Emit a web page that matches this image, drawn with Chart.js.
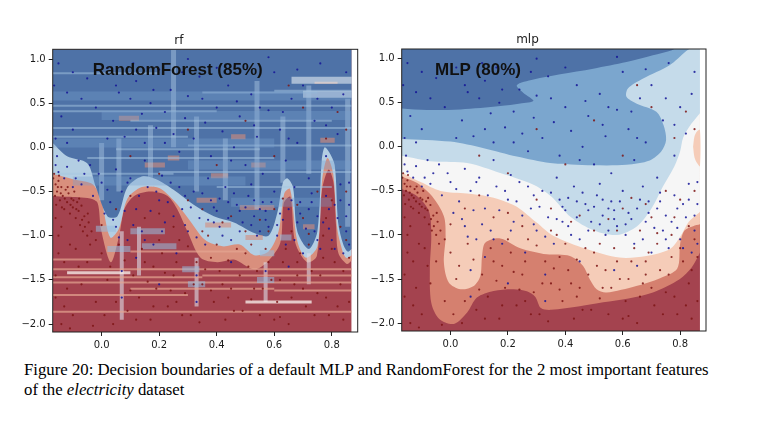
<!DOCTYPE html>
<html>
<head>
<meta charset="utf-8">
<script src="https://cdn.jsdelivr.net/npm/chart.js@4.4.1/dist/chart.umd.min.js"></script>
<style>
  html, body { margin: 0; padding: 0; background: #fff; }
  body { width: 764px; height: 435px; position: relative; overflow: hidden; }
  #rfChart { position: absolute; left: 0; top: 0; }
  #mlpChart { position: absolute; left: 349px; top: 0; }
  #caption { position: absolute; left: 24px; top: 360px; font-family: "Liberation Serif", serif;
             font-size: 15.5px; line-height: 19.5px; color: #000; white-space: nowrap; }
</style>
</head>
<body>
<canvas id="rfChart" width="380" height="360"></canvas>
<canvas id="mlpChart" width="380" height="360"></canvas>
<div id="caption"><span id="capLine1">Figure 20: Decision boundaries of a default MLP and RandomForest for the 2 most important features</span><br>of the <i>electricity</i> dataset</div>
<script>
// Rango de los ejes y marcas
const X_MIN = -0.17, X_MAX = 0.89;
const Y_MIN = -2.09, Y_MAX = 1.11;
const xTicks = [0.0, 0.2, 0.4, 0.6, 0.8];
const yTicks = [-2.0, -1.5, -1.0, -0.5, 0.0, 0.5, 1.0];

// Puntos de test (los mismos en los dos paneles)
const bluePts = [
  [-0.15,0.95],[-0.12,0.62],[-0.14,0.35],[-0.10,0.20],[-0.05,0.78],[-0.02,0.45],[0.02,0.90],[0.04,0.30],[0.06,0.62],[0.08,0.12],
  [0.10,0.55],[0.12,0.75],[0.14,0.38],[0.15,0.05],[0.17,0.50],[0.19,0.22],[0.20,0.88],[0.22,0.40],[0.24,0.65],[0.25,0.15],
  [0.27,-0.05],[0.29,0.33],[0.30,0.58],[0.32,0.10],[0.34,0.80],[0.36,0.28],[0.38,-0.10],[0.40,0.45],[0.42,0.18],[0.44,0.70],
  [0.46,0.00],[0.48,0.35],[0.50,-0.20],[0.52,0.60],[0.54,0.12],[0.56,-0.30],[0.58,0.42],[0.60,0.85],[0.62,0.20],[0.64,-0.15],
  [0.66,0.55],[0.68,0.05],[0.70,0.70],[0.72,-0.35],[0.74,0.30],[0.76,0.95],[0.78,-0.10],[0.80,0.45],[0.82,0.15],[0.84,0.60],
  [0.86,-0.40],[-0.16,-0.20],[-0.13,-0.35],[-0.10,-0.45],[-0.06,-0.30],[-0.03,-0.55],[0.00,-0.40],[0.01,-0.75],[0.03,-0.62],[0.05,-0.90],
  [0.07,-0.50],[0.09,-1.05],[0.10,-0.35],[0.12,-0.70],[0.14,-0.95],[0.16,-0.45],[0.18,-1.10],[0.20,-0.60],[0.22,-0.85],[0.24,-0.40],
  [0.26,-1.20],[0.28,-0.70],[0.30,-0.95],[0.32,-0.50],[0.34,-0.80],[0.36,-1.10],[0.38,-0.60],[0.40,-0.72],[0.41,-0.90],[0.43,-0.45],
  [0.45,-1.05],[0.47,-0.65],[0.49,-0.85],[0.51,-0.55],[0.53,-0.78],[0.54,-1.00],[0.56,-0.62],[0.58,-0.90],[0.60,-0.50],[0.62,-0.75],
  [0.64,-1.10],[0.66,-0.60],[0.68,-0.85],[0.70,-1.20],[0.72,-0.70],[0.74,-0.95],[0.76,-1.15],[0.78,-0.55],[0.80,-1.05],[0.82,-0.80],
  [0.84,-1.20],[0.86,-0.65],[0.07,-1.40],[0.07,-1.70],[0.33,-1.45],[0.33,-1.75],[0.57,-1.40],[0.20,-1.55],[0.45,-1.30],[0.65,-1.35],
  [0.12,-1.25],[0.37,-0.35],[0.44,-0.62],[0.52,-0.42],[0.55,-0.70],[0.61,-0.88],[0.67,-0.45],[0.69,-0.62],[0.73,-0.52],[0.75,-0.78],
  [0.79,-0.92],[0.81,-0.65],[0.83,-0.42],[0.85,-0.95],[0.57,-0.82],[0.48,-0.72],[0.39,-0.85],[0.29,-0.55],[0.21,-0.32],[0.15,-0.15],
  [0.05,-0.25],[-0.08,-0.15],[-0.12,0.05],[0.02,0.10],[0.18,0.65],[0.28,0.85],[0.11,0.95],[-0.07,0.55],[0.47,0.52],[0.53,0.25],[0.63,0.40],
  [-0.165,0.70],[-0.16,0.10],[-0.155,-0.10],[-0.15,-0.28],[-0.12,-0.22],[-0.09,-0.35],[-0.07,-0.42],[-0.04,-0.20],[-0.01,-0.30],[0.02,-0.48],
  [0.04,-0.82],[0.06,-1.02],[0.08,-0.72],[0.09,-0.40],[0.11,-0.88],[0.13,-0.55],[0.15,-1.05],[0.17,-0.72],[0.19,-0.50],[0.21,-0.95],
  [0.23,-0.62],[0.25,-0.78],[0.27,-0.45],[0.29,-0.88],[0.31,-0.68],[0.33,-1.02],[0.35,-0.52],[0.37,-0.82],[0.39,-0.68],[0.41,-0.58],
  [0.42,-1.00],[0.44,-0.80],[0.46,-0.52],[0.48,-0.95],[0.50,-0.68],[0.52,-0.88],[0.53,-0.60],[0.55,-0.95],[0.57,-0.72],[0.59,-0.62],
  [0.61,-1.00],[0.63,-0.82],[0.65,-0.70],[0.67,-1.05],[0.69,-0.75],[0.71,-0.92],[0.73,-0.62],[0.75,-1.05],[0.77,-0.85],[0.79,-0.70],
  [0.81,-1.15],[0.83,-0.60],[0.85,-0.78],[0.86,-1.10],[0.12,0.20],[0.22,0.05],[0.35,0.55],[0.45,-0.15],[0.55,0.45],[0.65,0.10],
  [0.75,0.55],[0.85,0.85],[0.05,0.70],[-0.10,0.85],[0.30,1.00],[0.58,1.02],[0.68,0.88],[0.78,0.25],[0.40,0.90],[0.16,0.90]
];
const redPts = [
  [-0.165,-0.30],[-0.16,-0.42],[-0.155,-0.50],[-0.15,-0.38],[-0.145,-0.60],[-0.14,-0.45],[-0.135,-0.55],[-0.13,-0.70],[-0.125,-0.48],[-0.12,-0.62],
  [-0.115,-0.52],[-0.11,-0.75],[-0.105,-0.58],[-0.10,-0.68],[-0.095,-0.50],[-0.09,-0.80],[-0.085,-0.62],[-0.08,-0.72],[-0.075,-0.88],[-0.07,-0.66],
  [-0.065,-0.95],[-0.06,-0.78],[-0.05,-1.00],[-0.045,-0.85],[-0.04,-1.10],[-0.15,-1.20],[-0.12,-1.60],[-0.10,-1.90],[-0.08,-1.35],[-0.02,-1.75],
  [0.00,-1.20],[0.02,-1.50],[0.04,-2.00],[0.06,-1.10],[0.09,-1.85],[0.11,-1.45],[0.13,-1.70],[0.15,-1.30],[0.17,-1.95],[0.19,-1.60],
  [0.21,-1.20],[0.23,-1.80],[0.25,-1.45],[0.27,-1.05],[0.29,-1.65],[0.31,-1.90],[0.33,-1.30],[0.35,-1.55],[0.37,-1.00],[0.39,-1.75],
  [0.41,-1.40],[0.43,-1.95],[0.45,-1.60],[0.47,-1.15],[0.49,-1.85],[0.51,-1.35],[0.53,-1.60],[0.55,-1.90],[0.57,-1.15],[0.59,-1.50],
  [0.61,-1.75],[0.63,-1.30],[0.65,-2.00],[0.67,-1.55],[0.69,-1.20],[0.71,-1.80],[0.73,-1.40],[0.75,-1.65],[0.77,-1.00],[0.79,-1.90],
  [0.81,-1.30],[0.83,-1.55],[0.85,-1.05],[0.86,-1.75],[0.05,-0.70],[0.15,-0.80],[0.25,-0.90],[0.35,-0.70],[0.42,-0.85],[0.50,-0.95],
  [0.55,-0.82],[0.60,-0.70],[0.63,-0.58],[0.66,-0.95],[0.70,-0.80],[0.75,-0.50],[0.80,-0.60],[0.83,-0.90],[0.20,-0.30],[0.40,-0.20],
  [0.60,-0.10],[0.78,0.10],[0.82,0.40],[0.70,0.45],[0.30,0.20],[0.10,-0.10],[0.50,0.30],[0.65,0.70],[0.85,0.20],[-0.14,-0.90],
  [-0.16,-1.45],[-0.13,-1.80],[-0.09,-1.15],[-0.11,-2.05],[0.01,-1.90],[0.18,-1.35],[0.38,-1.25],[0.52,-1.10],[0.68,-1.45],[0.77,-1.25],
  [0.84,-1.95],[0.62,-1.92],[0.44,-1.70],[0.26,-1.75],
  [-0.168,-0.35],[-0.162,-0.55],[-0.158,-0.65],[-0.152,-0.45],[-0.148,-0.32],[-0.142,-0.52],[-0.138,-0.68],[-0.128,-0.58],[-0.118,-0.45],[-0.108,-0.65],
  [-0.098,-0.60],[-0.088,-0.70],[-0.078,-0.58],[-0.068,-0.82],[-0.058,-0.90],[-0.048,-0.75],[-0.035,-0.95],[-0.02,-1.05],[0.00,-0.88],[-0.16,-0.80],
  [-0.15,-1.00],[-0.13,-1.30],[-0.11,-1.10],[-0.16,-1.70],[-0.14,-2.00],[-0.07,-1.55],[-0.05,-1.30],[-0.03,-2.02],[0.03,-1.35],[0.05,-1.75],
  [0.08,-1.28],[0.10,-1.62],[0.12,-1.95],[0.14,-1.15],[0.16,-1.52],[0.18,-1.80],[0.20,-1.05],[0.22,-1.42],[0.24,-1.62],[0.26,-1.30],
  [0.28,-1.90],[0.30,-1.12],[0.32,-1.55],[0.34,-1.98],[0.36,-1.38],[0.38,-1.62],[0.40,-1.10],[0.42,-1.55],[0.44,-1.28],[0.46,-1.85],
  [0.48,-1.45],[0.50,-1.20],[0.52,-1.72],[0.54,-1.40],[0.56,-1.60],[0.58,-1.30],[0.60,-1.95],[0.62,-1.50],[0.64,-1.15],[0.66,-1.70],
  [0.68,-1.30],[0.70,-1.60],[0.72,-1.10],[0.74,-1.90],[0.76,-1.45],[0.78,-1.70],[0.80,-1.15],[0.82,-1.80],[0.84,-1.40],[0.86,-1.25],
  [0.20,-0.75],[0.30,-0.60],[0.45,-0.78],[0.58,-0.95],[0.68,-0.65],[0.72,-0.98],[0.78,-0.80],[0.85,-0.50],[0.35,-0.95],[0.10,-0.55]
];

// MLP: bordes de las bandas de contorno (cada banda se rellena hacia arriba)
const mlpBaseEdge = [[-0.17,-2.09],[0.869,-2.09]];
const mlpSalmonEdge = [[-0.17,-0.48],[-0.116,-0.56],[-0.075,-0.73],[-0.067,-1.01],[-0.072,-1.39],[-0.067,-1.77],[-0.04,-1.95],[0.012,-2.01],
  [0.058,-1.88],[0.092,-1.71],[0.15,-1.635],[0.22,-1.616],[0.266,-1.64],[0.295,-1.70],[0.315,-1.83],[0.35,-1.85],[0.45,-1.81],[0.532,-1.765],
  [0.62,-1.72],[0.705,-1.652],[0.798,-1.502],[0.84,-1.37],[0.869,-1.2]];
const mlpLightSalmonEdge = [[-0.17,-0.336],[-0.116,-0.411],[-0.064,-0.562],[-0.023,-0.788],[-0.017,-1.014],[-0.023,-1.315],[-0.006,-1.54],
  [0.035,-1.616],[0.081,-1.578],[0.104,-1.465],[0.110,-1.239],[0.121,-1.089],[0.173,-1.04],[0.243,-1.15],[0.335,-1.22],[0.416,-1.239],
  [0.462,-1.352],[0.485,-1.502],[0.509,-1.615],[0.543,-1.652],[0.647,-1.578],[0.73,-1.49],[0.79,-1.38],[0.80,-1.1],[0.815,-0.95],[0.845,-0.9],[0.869,-0.88]];
const mlpWhiteEdge = [[-0.17,-0.29],[-0.104,-0.40],[-0.035,-0.50],[0.058,-0.53],[0.127,-0.56],[0.173,-0.60],[0.231,-0.68],[0.30,-0.86],
  [0.358,-1.01],[0.474,-1.16],[0.589,-1.257],[0.682,-1.239],[0.763,-1.163],[0.80,-1.02],[0.83,-0.85],[0.869,-0.74]];
const mlpLightBlueEdge = [[-0.17,-0.10],[-0.058,-0.167],[0.058,-0.185],[0.173,-0.298],[0.289,-0.43],[0.35,-0.56],[0.42,-0.80],[0.50,-0.95],
  [0.58,-1.0],[0.65,-0.9],[0.70,-0.7],[0.74,-0.45],[0.78,-0.22],[0.80,-0.05],[0.81,0.1],[0.83,0.22],[0.869,0.38]];
const mlpMidBlueEdge = [[-0.17,0.09],[0.0,0.059],[0.116,-0.016],[0.231,-0.111],[0.347,-0.185],[0.42,-0.20],[0.497,-0.21],[0.613,-0.204],
  [0.694,-0.155],[0.734,-0.054],[0.751,0.078],[0.742,0.247],[0.717,0.398],[0.647,0.492],[0.613,0.567],[0.618,0.661],[0.671,0.774],
  [0.763,0.925],[0.821,1.087],[0.832,1.11]];
const mlpDarkBlueEdge = [[-0.17,0.435],[-0.081,0.417],[0.035,0.424],[0.173,0.462],[0.243,0.492],[0.289,0.522],[0.254,0.612],[0.231,0.699],
  [0.289,0.763],[0.382,0.823],[0.497,0.887],[0.613,0.962],[0.705,1.038],[0.769,1.094],[0.78,1.11]];
const mlpLobe = [[0.845,0.0],[0.85,0.12],[0.86,0.18],[0.869,0.19],[0.869,-0.22],[0.86,-0.19],[0.85,-0.12],[0.845,0.0]];

// RandomForest: bordes principales
const rfBaseEdge = [[-0.17,-2.09],[0.869,-2.09]];
const rfSalmonEdge = [[-0.17,-0.55],[-0.12,-0.56],[-0.04,-0.58],[-0.014,-0.63],[-0.002,-0.93],[0.032,-1.30],[0.061,-1.00],[0.079,-0.70],
  [0.113,-0.55],[0.171,-0.50],[0.229,-0.55],[0.263,-0.70],[0.298,-0.95],[0.344,-1.25],[0.402,-1.30],[0.46,-1.27],[0.529,-1.38],[0.575,-1.30],
  [0.621,-1.08],[0.633,-0.63],[0.656,-0.56],[0.673,-1.08],[0.714,-1.30],[0.748,-1.23],[0.766,-0.48],[0.789,-0.25],[0.806,-0.40],[0.815,-0.90],
  [0.823,-1.20],[0.852,-1.32],[0.869,-1.28]];
const rfLightEdge = [[-0.17,-0.30],[-0.10,-0.36],[-0.03,-0.42],[0.0,-0.62],[0.03,-1.02],[0.06,-0.92],[0.09,-0.58],[0.14,-0.45],[0.20,-0.46],
  [0.25,-0.60],[0.30,-0.80],[0.36,-1.05],[0.42,-1.12],[0.48,-1.10],[0.53,-1.22],[0.58,-1.18],[0.615,-0.95],[0.635,-0.52],[0.655,-0.47],
  [0.68,-1.06],[0.71,-1.25],[0.75,-1.12],[0.767,-0.35],[0.785,-0.12],[0.805,-0.30],[0.818,-0.9],[0.835,-1.15],[0.85,-1.25],[0.869,-1.22]];
const rfBlueEdge = [[-0.17,0.05],[-0.12,-0.10],[-0.05,-0.18],[-0.02,-0.45],[0.02,-0.78],[0.055,-0.78],[0.09,-0.45],[0.14,-0.33],[0.19,-0.36],
  [0.25,-0.48],[0.32,-0.65],[0.39,-0.78],[0.46,-0.85],[0.53,-0.97],[0.58,-1.0],[0.61,-0.75],[0.63,-0.40],[0.645,-0.35],[0.665,-0.45],
  [0.68,-0.95],[0.72,-1.15],[0.75,-0.95],[0.765,-0.15],[0.775,0.0],[0.79,-0.05],[0.81,-0.2],[0.822,-0.85],[0.84,-1.1],[0.855,-1.18],[0.869,-1.15]];

// RandomForest: franjas horizontales [x0, x1, y] y verticales [x, y0, y1]
const rfMidRows = [[-0.17,0.869,0.58],[0.0,0.869,0.36],[-0.17,0.60,0.05],[0.30,0.869,-0.20],[-0.10,0.50,-0.38],[0.45,0.80,-0.62]];
const rfBlueRows = [[-0.17,0.20,0.84],[-0.17,0.869,0.47],[-0.17,0.40,0.41],[0.10,0.80,0.30],[-0.17,0.30,0.12],
  [0.30,0.869,0.02],[-0.05,0.60,-0.12],[0.20,0.869,-0.28],[0.40,0.80,-0.45],[0.60,0.869,0.64],
  [-0.17,0.869,0.22],[0.05,0.55,-0.02],[-0.17,0.25,-0.30],[0.35,0.75,0.62]];
const rfBlueCols = [[0.25,1.11,0.0],[0.17,0.25,-0.45],[0.54,0.75,-0.7],[0.63,0.35,-0.4],[0.43,0.10,-0.6],
  [0.33,0.35,-0.5],[0.72,0.70,-0.3],[0.855,0.55,-0.9],[0.06,0.10,-0.50],[0.00,0.05,-0.60]];
const rfPaleRows = [[0.66,0.869,0.76],[0.70,0.869,0.60]];
const rfSalmonRows = [[-0.17,0.00,-1.27],[-0.17,0.869,-1.38],[-0.17,0.35,-1.47],[0.35,0.869,-1.45],[-0.17,0.869,-1.53],
  [0.10,0.60,-1.60],[-0.17,0.30,-1.67],[0.74,0.82,0.73],[-0.17,0.869,-1.86],[0.10,0.50,-1.18],[0.60,0.869,-1.62]];
const rfRedBlobs = [[0.33,0.40,-0.60],[0.48,0.60,-0.68],[0.36,0.45,-0.88],[0.50,0.56,-1.02],[0.15,0.22,-0.20],
  [0.38,0.44,-0.32],[0.06,0.13,0.33],[0.23,0.27,-0.12],[0.76,0.81,0.08],[0.70,0.74,-0.90],[0.45,0.50,0.12],[0.52,0.57,-0.20]];
const rfBlueBlobs = [[0.10,0.22,-0.95],[0.14,0.26,-1.12],[0.02,0.10,-1.15],[-0.02,0.05,-0.92],[0.28,0.34,-1.38],
  [0.55,0.60,-1.20],[0.62,0.66,-1.02],[0.30,0.36,-1.55],[0.54,0.60,-1.50]];
const rfWhiteRows = [[0.50,0.73,-1.75],[-0.12,0.10,-1.42]];
const rfRedCols = [[0.07,-0.95,-1.95],[0.33,-1.25,-1.80],[0.57,-1.30,-1.75],[0.13,-0.90,-1.45],[0.72,-1.20,-1.55]];

// Colores (RdBu con alfa)
const DARK_RED = '#a4434f';
const SALMON = '#d5806f';
const LIGHT_SALMON = '#f5ccb8';
const WHITE_BAND = '#f6f6f6';
const LIGHT_BLUE = '#c5dbea';
const MID_BLUE = '#7ba6ce';
const DARK_BLUE = '#4e72a7';

const toXY = arr => arr.map(([x, y]) => ({ x, y }));

function band(edge, color, order, fill = 'end') {
    return {
        type: 'line', data: toXY(edge), showLine: false, fill: fill,
        backgroundColor: color, pointRadius: 0, tension: 0.3, order: order
    };
}

function rowStripes(rows, color, width) {
    return rows.map(([x0, x1, y]) => ({
        type: 'line', data: [{ x: x0, y }, { x: x1, y }], showLine: true, fill: false,
        borderColor: color, borderWidth: width, pointRadius: 0, tension: 0, order: 1
    }));
}

function colStripes(cols, color, width) {
    return cols.map(([x, y0, y1]) => ({
        type: 'line', data: [{ x, y: y0 }, { x, y: y1 }], showLine: true, fill: false,
        borderColor: color, borderWidth: width, pointRadius: 0, tension: 0, order: 1
    }));
}

function pointSets() {
    return [
        { type: 'scatter', data: toXY(bluePts), pointRadius: 1.1, pointBorderWidth: 0,
          pointBackgroundColor: 'rgba(20,20,150,0.85)', order: 0 },
        { type: 'scatter', data: toXY(redPts), pointRadius: 1.1, pointBorderWidth: 0,
          pointBackgroundColor: 'rgba(125,20,20,0.85)', order: 0 }
    ];
}

const fmtTick = v => v.toFixed(1).replace('-', '\u2212');

// Marco de los ejes
const framePlugin = {
    id: 'frame',
    afterDraw(chart) {
        const { ctx, chartArea: a } = chart;
        ctx.save();
        ctx.strokeStyle = '#222';
        ctx.lineWidth = 1;
        ctx.strokeRect(a.left, a.top, a.right - a.left, a.bottom - a.top);
        ctx.restore();
    }
};

// Texto del modelo dentro del panel
const labelPlugin = {
    id: 'modelLabel',
    afterDatasetsDraw(chart, args, opts) {
        const { ctx, scales } = chart;
        ctx.save();
        ctx.font = 'bold 17px "Liberation Sans", Arial, sans-serif';
        ctx.fillStyle = '#111';
        ctx.textBaseline = 'middle';
        ctx.fillText(opts.text, scales.x.getPixelForValue(opts.x), scales.y.getPixelForValue(opts.y));
        ctx.restore();
    }
};

function makeChart(id, title, label, datasets, box) {
    const tickFont = { family: 'DejaVu Sans', size: 10 };
    return new Chart(document.getElementById(id), {
        type: 'line',
        data: { datasets },
        options: {
            responsive: false,
            animation: false,
            events: [],
            layout: { padding: { left: 0, right: box.right, top: 0, bottom: 0 } },
            plugins: {
                legend: { display: false },
                tooltip: { enabled: false },
                title: {
                    display: true, text: title, color: '#222',
                    font: { family: 'DejaVu Sans', size: 12, weight: 'normal' },
                    padding: { top: box.top - 16, bottom: 1.6 }
                },
                modelLabel: label
            },
            scales: {
                x: {
                    type: 'linear', min: X_MIN, max: X_MAX,
                    afterBuildTicks: axis => { axis.ticks = xTicks.map(value => ({ value })); },
                    afterFit: axis => { axis.height = box.bottom; },
                    ticks: { callback: fmtTick, color: '#1a1a1a', font: tickFont, padding: 3, autoSkip: false, maxRotation: 0 },
                    grid: { drawOnChartArea: false, tickLength: 4, tickColor: '#222' },
                    border: { display: false }
                },
                y: {
                    type: 'linear', min: Y_MIN, max: Y_MAX,
                    afterBuildTicks: axis => { axis.ticks = yTicks.map(value => ({ value })); },
                    afterFit: axis => { axis.width = 52.7; },
                    ticks: { callback: fmtTick, color: '#1a1a1a', font: tickFont, padding: 3, autoSkip: false },
                    grid: { drawOnChartArea: false, tickLength: 4, tickColor: '#222' },
                    border: { display: false }
                }
            }
        },
        plugins: [framePlugin, labelPlugin]
    });
}

// Panel izquierdo: RandomForest
const rfDatasets = [
    ...pointSets(),
    ...rowStripes(rfMidRows, 'rgba(120,160,205,0.35)', 9),
    ...rowStripes(rfBlueRows, 'rgba(165,198,225,0.5)', 2),
    ...colStripes(rfBlueCols, 'rgba(180,208,230,0.42)', 5),
    ...rowStripes(rfPaleRows, 'rgba(228,236,242,0.6)', 7),
    ...rowStripes(rfRedBlobs, 'rgba(214,140,122,0.6)', 5),
    ...rowStripes(rfBlueBlobs, 'rgba(150,188,222,0.55)', 6),
    ...rowStripes(rfSalmonRows, 'rgba(228,165,145,0.7)', 2),
    ...rowStripes(rfWhiteRows, 'rgba(244,234,230,0.8)', 3),
    ...colStripes(rfRedCols, 'rgba(220,222,232,0.6)', 4),
    band(rfBlueEdge, DARK_BLUE, 10),
    band(rfLightEdge, '#b3cee3', 11),
    band(rfSalmonEdge, '#d98f7d', 12),
    band(rfBaseEdge, DARK_RED, 13)
];
makeChart('rfChart', 'rf', { text: 'RandomForest (85%)', x: -0.031, y: 0.876 }, rfDatasets,
          { right: 22.3, top: 49.3, bottom: 28 });

// Panel derecho: MLP
const mlpDatasets = [
    ...pointSets(),
    band(mlpLobe, LIGHT_SALMON, 2, 'shape'),
    band(mlpDarkBlueEdge, DARK_BLUE, 3),
    band(mlpMidBlueEdge, MID_BLUE, 4),
    band(mlpLightBlueEdge, LIGHT_BLUE, 5),
    band(mlpWhiteEdge, WHITE_BAND, 6),
    band(mlpLightSalmonEdge, LIGHT_SALMON, 7),
    band(mlpSalmonEdge, SALMON, 8),
    band(mlpBaseEdge, DARK_RED, 9)
];
makeChart('mlpChart', 'mlp', { text: 'MLP (80%)', x: -0.054, y: 0.87 }, mlpDatasets,
          { right: 23, top: 49, bottom: 29 });

// Ajustar el pie de figura al ancho de la referencia
const cap = document.getElementById('caption');
const w = document.getElementById('capLine1').getBoundingClientRect().width;
cap.style.fontSize = (15.5 * 685 / w).toFixed(2) + 'px';
</script>
</body>
</html>
